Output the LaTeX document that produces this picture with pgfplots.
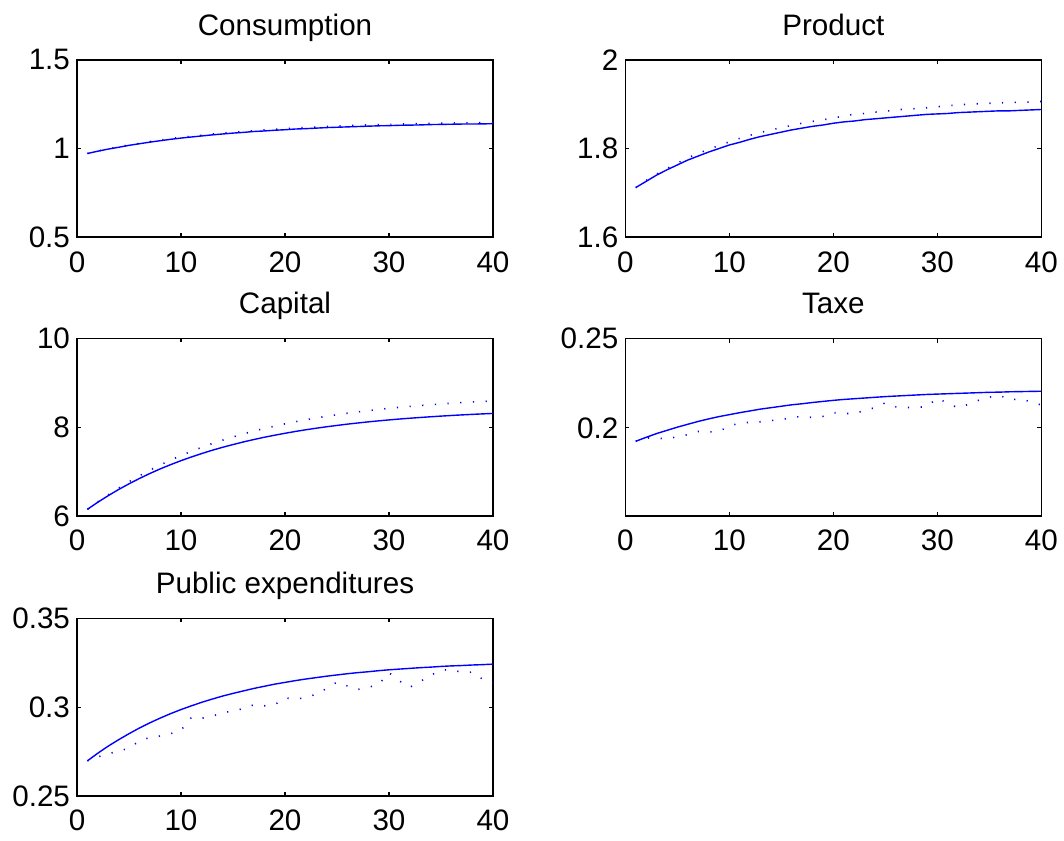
\documentclass[border=0pt]{standalone}
\usepackage{fontspec}
\setmainfont{Liberation Sans}
\usepackage{pgfplots}
\usepackage{pgfplotstable}
\pgfplotsset{compat=1.18}

% t, solid, dotted
\pgfplotstableread{
t c cd
1 0.972 0.972
2 0.985 0.986
3 0.997 0.998
4 1.007 1.009
5 1.018 1.020
6 1.027 1.029
7 1.036 1.039
8 1.044 1.047
9 1.052 1.056
10 1.059 1.063
11 1.065 1.069
12 1.071 1.075
13 1.077 1.082
14 1.082 1.087
15 1.087 1.092
16 1.091 1.096
17 1.096 1.101
18 1.099 1.105
19 1.103 1.109
20 1.106 1.112
21 1.110 1.116
22 1.112 1.118
23 1.115 1.121
24 1.118 1.125
25 1.120 1.127
26 1.122 1.129
27 1.124 1.131
28 1.126 1.133
29 1.128 1.135
30 1.129 1.136
31 1.131 1.138
32 1.132 1.139
33 1.133 1.140
34 1.135 1.142
35 1.136 1.143
36 1.137 1.144
37 1.138 1.145
38 1.138 1.145
39 1.139 1.146
40 1.140 1.148
}\consumption

\pgfplotstableread{
t y yd
1 1.712 1.712
2 1.726 1.728
3 1.740 1.742
4 1.752 1.755
5 1.763 1.767
6 1.774 1.779
7 1.783 1.789
8 1.792 1.798
9 1.800 1.807
10 1.808 1.815
11 1.814 1.823
12 1.821 1.830
13 1.827 1.836
14 1.832 1.842
15 1.837 1.847
16 1.842 1.852
17 1.846 1.857
18 1.850 1.861
19 1.853 1.865
20 1.857 1.868
21 1.860 1.874
22 1.862 1.877
23 1.865 1.879
24 1.867 1.882
25 1.869 1.884
26 1.871 1.887
27 1.873 1.889
28 1.875 1.890
29 1.877 1.892
30 1.878 1.894
31 1.879 1.897
32 1.881 1.898
33 1.882 1.900
34 1.883 1.901
35 1.884 1.902
36 1.885 1.903
37 1.885 1.904
38 1.886 1.904
39 1.887 1.905
40 1.888 1.906
}\product

\pgfplotstableread{
t k kd
1 6.150 6.150
2 6.310 6.317
3 6.458 6.476
4 6.597 6.628
5 6.725 6.770
6 6.845 6.905
7 6.957 7.031
8 7.061 7.149
9 7.157 7.259
10 7.247 7.362
11 7.330 7.458
12 7.408 7.548
13 7.481 7.632
14 7.548 7.709
15 7.610 7.781
16 7.669 7.850
17 7.723 7.913
18 7.774 7.972
19 7.820 8.025
20 7.864 8.077
21 7.905 8.124
22 7.943 8.168
23 7.978 8.209
24 8.011 8.247
25 8.041 8.282
26 8.070 8.316
27 8.096 8.346
28 8.121 8.375
29 8.144 8.401
30 8.165 8.426
31 8.185 8.449
32 8.203 8.470
33 8.220 8.489
34 8.236 8.508
35 8.251 8.525
36 8.265 8.541
37 8.278 8.556
38 8.290 8.570
39 8.301 8.582
40 8.311 8.594
}\capital

\pgfplotstableread{
t tx txd
1 0.1925 0.1925
2 0.1947 0.1944
3 0.1968 0.1942
4 0.1986 0.1939
5 0.2004 0.1950
6 0.2020 0.1962
7 0.2036 0.1980
8 0.2050 0.1977
9 0.2063 0.1980
10 0.2074 0.2010
11 0.2085 0.2027
12 0.2095 0.2031
13 0.2105 0.2034
14 0.2113 0.2041
15 0.2121 0.2046
16 0.2129 0.2058
17 0.2135 0.2064
18 0.2142 0.2058
19 0.2148 0.2064
20 0.2154 0.2085
21 0.2159 0.2082
22 0.2163 0.2078
23 0.2167 0.2098
24 0.2171 0.2113
25 0.2175 0.2140
26 0.2178 0.2118
27 0.2181 0.2114
28 0.2184 0.2114
29 0.2187 0.2120
30 0.2189 0.2166
31 0.2191 0.2138
32 0.2193 0.2112
33 0.2195 0.2132
34 0.2197 0.2155
35 0.2199 0.2172
36 0.2200 0.2182
37 0.2202 0.2156
38 0.2203 0.2163
39 0.2204 0.2145
40 0.2205 0.2128
}\taxe

\pgfplotstableread{
t g gd
1 0.2698 0.2698
2 0.2741 0.2720
3 0.2781 0.2738
4 0.2817 0.2752
5 0.2851 0.2770
6 0.2883 0.2810
7 0.2912 0.2830
8 0.2939 0.2838
9 0.2964 0.2851
10 0.2987 0.2870
11 0.3008 0.2943
12 0.3028 0.2938
13 0.3046 0.2950
14 0.3063 0.2968
15 0.3078 0.2980
16 0.3092 0.2992
17 0.3106 0.3014
18 0.3118 0.3008
19 0.3130 0.3014
20 0.3140 0.3052
21 0.3150 0.3048
22 0.3159 0.3052
23 0.3167 0.3075
24 0.3175 0.3105
25 0.3182 0.3142
26 0.3189 0.3120
27 0.3195 0.3100
28 0.3200 0.3112
29 0.3206 0.3128
30 0.3211 0.3195
31 0.3215 0.3148
32 0.3219 0.3112
33 0.3223 0.3145
34 0.3226 0.3180
35 0.3230 0.3208
36 0.3233 0.3213
37 0.3235 0.3196
38 0.3238 0.3198
39 0.3240 0.3158
40 0.3243 0.3138
}\pubexp

\pgfplotsset{
  panel/.style={
    anchor=south west,
    scale only axis,
    width=208pt, height=88.75pt,
    xmin=0, xmax=40, xtick={0,10,20,30,40},
    tick align=inside, major tick length=2pt,
    axis line style={line width=0.8pt},
    every tick/.style={black, line width=0.6pt},
    scaled ticks=false,
    /pgf/number format/assume math mode=true,
    ticklabel style={font=\fontsize{14.8}{17}\selectfont},
    xticklabel style={yshift=-3.5pt},
    title style={font=\fontsize{14.8}{17}\selectfont, at={(0.5,1)}, anchor=base, yshift=6.3pt},
  },
  solid line/.style={blue, line width=0.7pt},
  dot line/.style={blue, line width=0.8pt, dash pattern=on 0.6pt off 5.75pt},
}

\begin{document}
\begin{tikzpicture}
\useasboundingbox (0,0) rectangle (532pt,420pt);

\begin{axis}[panel, at={(38.5pt,301.35pt)}, title={Consumption},
  ymin=0.5, ymax=1.5, ytick={0.5,1,1.5}]
\addplot[solid line] table[x=t, y=c] {\consumption};
\addplot[dot line] table[x=t, y=cd] {\consumption};
\end{axis}

\begin{axis}[panel, at={(312.65pt,301.35pt)}, title={Product},
  ymin=1.6, ymax=2, ytick={1.6,1.8,2}]
\addplot[solid line] table[x=t, y=y] {\product};
\addplot[dot line] table[x=t, y=yd] {\product};
\end{axis}

\begin{axis}[panel, at={(38.5pt,162pt)}, title={Capital},
  ymin=6, ymax=10, ytick={6,8,10}]
\addplot[solid line] table[x=t, y=k] {\capital};
\addplot[dot line] table[x=t, y=kd] {\capital};
\end{axis}

\begin{axis}[panel, at={(312.65pt,162pt)}, title={Taxe},
  ymin=0.1507, ymax=0.25, ytick={0.2,0.25}]
\addplot[solid line] table[x=t, y=tx] {\taxe};
\addplot[dot line] table[x=t, y=txd] {\taxe};
\end{axis}

\begin{axis}[panel, at={(38.5pt,22pt)}, title={Public expenditures},
  ymin=0.25, ymax=0.35, ytick={0.25,0.3,0.35}]
\addplot[solid line] table[x=t, y=g] {\pubexp};
\addplot[dot line] table[x=t, y=gd] {\pubexp};
\end{axis}
\end{tikzpicture}
\end{document}
